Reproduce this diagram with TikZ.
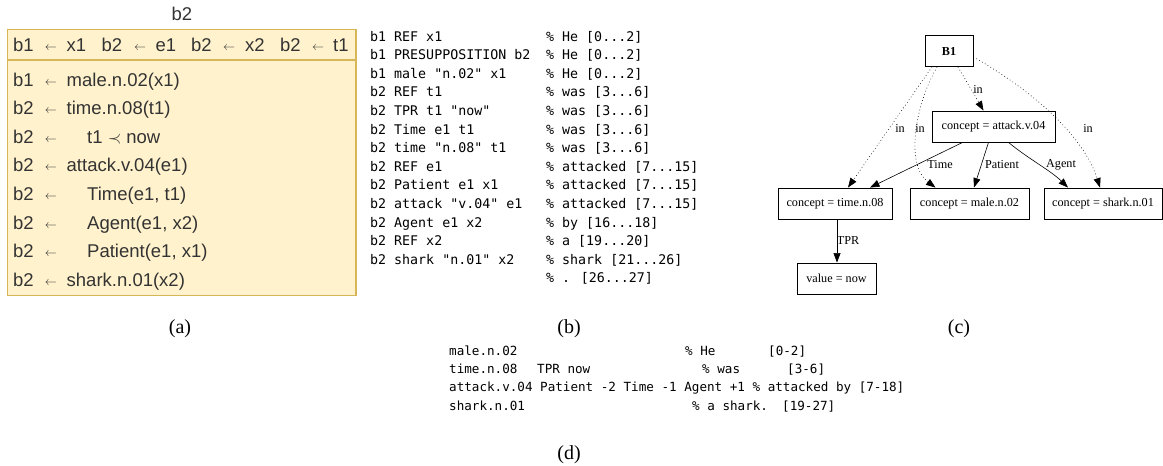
\documentclass[tikz,border=0pt]{standalone}
\usepackage{fontspec}
\setmainfont{Liberation Serif}
\newfontfamily\asans{Liberation Sans}
\newfontfamily\amono{DejaVu Sans Mono}
\usetikzlibrary{arrows.meta}
\definecolor{dfill}{HTML}{FFF2CC}
\definecolor{dline}{HTML}{D6B656}
\definecolor{tcol}{HTML}{333333}
\tikzset{
  atxt/.style={inner sep=0, anchor=base west, text=tcol, font=\asans\fontsize{18.5}{20}\selectfont},
  arr/.style={inner sep=0, anchor=base, text=tcol, font=\fontsize{13}{13}\selectfont},
  btxt/.style={inner sep=0, anchor=base west, font=\amono\fontsize{13.3}{14}\selectfont},
  dtxt/.style={inner sep=0, anchor=base west, font=\amono\fontsize{12.6}{14}\selectfont},
  captxt/.style={inner sep=0, anchor=base, font=\fontsize{20}{22}\selectfont},
  gbox/.style={draw, line width=0.9pt, inner sep=0, minimum height=31pt, font=\fontsize{12.2}{13}\selectfont},
  glab/.style={inner sep=0, font=\fontsize{12.2}{13}\selectfont},
  garr/.style={line width=0.6pt, -{Triangle[length=9.5pt,width=7pt]}},
  gdot/.style={garr, dash pattern=on 0.7pt off 2.6pt},
}
\begin{document}
\begin{tikzpicture}[x=1pt,y=-1pt]
\useasboundingbox (0,0) rectangle (1163,466);
% ---------------- (a)
\node[inner sep=0, text=tcol, font=\asans\fontsize{18.5}{20}\selectfont] (atitle) at (182,14) {b2};
\draw[dline, fill=dfill, line width=1.6pt] (7.5,29.5) rectangle (356,295.5);
\draw[dline, line width=1.6pt] (7.5,60) -- (356,60);
% header
\node[atxt] (h1) at (13,51.7) {b1};
\node[arr] (ha1) at (51,50.7) {$\leftarrow$};
\node[atxt] (h2) at (66.5,51.7) {x1};
\node[atxt] (h3) at (101.5,51.7) {b2};
\node[arr] (ha2) at (140,50.7) {$\leftarrow$};
\node[atxt] (h4) at (155.5,51.7) {e1};
\node[atxt] (h5) at (191,51.7) {b2};
\node[arr] (ha3) at (229,50.7) {$\leftarrow$};
\node[atxt] (h6) at (245,51.7) {x2};
\node[atxt] (h7) at (280,51.7) {b2};
\node[arr] (ha4) at (318,50.7) {$\leftarrow$};
\node[atxt] (h8) at (333,51.7) {t1};
% rows
\node[atxt] (r1b) at (13,86) {b1};
\node[arr] (r1a) at (51,85) {$\leftarrow$};
\node[atxt] (r1c) at (66.5,86) {male.n.02(x1)};
\node[atxt] (r2b) at (13,114.6) {b2};
\node[arr] (r2a) at (51,113.6) {$\leftarrow$};
\node[atxt] (r2c) at (66.5,114.6) {time.n.08(t1)};
\node[atxt] (r3b) at (13,143.2) {b2};
\node[arr] (r3a) at (51,142.2) {$\leftarrow$};
\node[atxt] (r3c) at (87,143.2) {t1 $\prec$ now};
\node[atxt] (r4b) at (13,171.8) {b2};
\node[arr] (r4a) at (51,170.8) {$\leftarrow$};
\node[atxt] (r4c) at (66.5,171.8) {attack.v.04(e1)};
\node[atxt] (r5b) at (13,200.4) {b2};
\node[arr] (r5a) at (51,199.4) {$\leftarrow$};
\node[atxt] (r5c) at (87,200.4) {Time(e1, t1)};
\node[atxt] (r6b) at (13,229) {b2};
\node[arr] (r6a) at (51,228) {$\leftarrow$};
\node[atxt] (r6c) at (87,229) {Agent(e1, x2)};
\node[atxt] (r7b) at (13,257.6) {b2};
\node[arr] (r7a) at (51,256.6) {$\leftarrow$};
\node[atxt] (r7c) at (87,257.6) {Patient(e1, x1)};
\node[atxt] (r8b) at (13,286.2) {b2};
\node[arr] (r8a) at (51,285.2) {$\leftarrow$};
\node[atxt] (r8c) at (66.5,286.2) {shark.n.01(x2)};
\node[captxt] (capa) at (180,333) {(a)};
% ---------------- (b)
\node[btxt] (b1l) at (370,41) {b1 REF x1};
\node[btxt] (b1r) at (546,41) {\% He [0...2]};
\node[btxt] (b2l) at (370,59.6) {b1 PRESUPPOSITION b2};
\node[btxt] (b2r) at (546,59.6) {\% He [0...2]};
\node[btxt] (b3l) at (370,78.2) {b1 male "n.02" x1};
\node[btxt] (b3r) at (546,78.2) {\% He [0...2]};
\node[btxt] (b4l) at (370,96.8) {b2 REF t1};
\node[btxt] (b4r) at (546,96.8) {\% was [3...6]};
\node[btxt] (b5l) at (370,115.4) {b2 TPR t1 "now"};
\node[btxt] (b5r) at (546,115.4) {\% was [3...6]};
\node[btxt] (b6l) at (370,134) {b2 Time e1 t1};
\node[btxt] (b6r) at (546,134) {\% was [3...6]};
\node[btxt] (b7l) at (370,152.6) {b2 time "n.08" t1};
\node[btxt] (b7r) at (546,152.6) {\% was [3...6]};
\node[btxt] (b8l) at (370,171.2) {b2 REF e1};
\node[btxt] (b8r) at (546,171.2) {\% attacked [7...15]};
\node[btxt] (b9l) at (370,189.8) {b2 Patient e1 x1};
\node[btxt] (b9r) at (546,189.8) {\% attacked [7...15]};
\node[btxt] (b10l) at (370,208.4) {b2 attack "v.04" e1};
\node[btxt] (b10r) at (546,208.4) {\% attacked [7...15]};
\node[btxt] (b11l) at (370,227) {b2 Agent e1 x2};
\node[btxt] (b11r) at (546,227) {\% by [16...18]};
\node[btxt] (b12l) at (370,245.6) {b2 REF x2};
\node[btxt] (b12r) at (546,245.6) {\% a [19...20]};
\node[btxt] (b13l) at (370,264.2) {b2 shark "n.01" x2};
\node[btxt] (b13r) at (546,264.2) {\% shark [21...26]};
\node[btxt] (b14r) at (546,282.8) {\% . [26...27]};
\node[captxt] (capb) at (569,333) {(b)};
% ---------------- (c)
\node[gbox, minimum width=48pt, font=\bfseries\fontsize{12.2}{13}\selectfont] (B1) at (949,51) {B1};
\node[gbox, minimum width=123pt] (att) at (993.5,126.5) {concept = attack.v.04};
\node[gbox, minimum width=114pt] (tim) at (835,203.5) {concept = time.n.08};
\node[gbox, minimum width=119pt] (mal) at (969.5,203.5) {concept = male.n.02};
\node[gbox, minimum width=118pt] (shk) at (1103,203.5) {concept = shark.n.01};
\node[gbox, minimum width=79pt] (val) at (836.5,278.5) {value = now};
\draw[gdot] ([xshift=9pt]B1.south) -- ([xshift=-10pt]att.north);
\draw[gdot] ([xshift=-17pt]B1.south) -- ([xshift=13pt]tim.north);
\draw[gdot] ([xshift=-12pt]B1.south) .. controls (915,105) and (905,165) .. ([xshift=-34pt]mal.north);
\draw[gdot] ([yshift=-6pt]B1.east) .. controls (1040,95) and (1085,140) .. ([xshift=-3pt]shk.north);
\draw[garr] ([xshift=-31pt]att.south) -- ([xshift=35pt]tim.north);
\draw[garr] ([xshift=-5pt]att.south) -- ([xshift=4.5pt]mal.north);
\draw[garr] ([xshift=15pt]att.south) .. controls (1030,160) and (1050,170) .. ([xshift=-35pt]shk.north);
\draw[garr] ([xshift=2pt]tim.south) -- ([xshift=0.5pt]val.north);
\node[glab] (lin1) at (978,89) {in};
\node[glab] (lin2) at (900,128) {in};
\node[glab] (lin3) at (920,128) {in};
\node[glab] (lin4) at (1088,128) {in};
\node[glab] (ltime) at (940,165) {Time};
\node[glab] (lpat) at (1002,165) {Patient};
\node[glab] (lag) at (1061,165) {Agent};
\node[glab] (ltpr) at (848,241) {TPR};
\node[captxt] (capc) at (959,333) {(c)};
% ---------------- (d)
\node[dtxt] (d1a) at (449,355) {male.n.02};
\node[dtxt] (d1b) at (685,355) {\% He};
\node[dtxt] (d1c) at (768,355) {[0-2]};
\node[dtxt] (d2a) at (449,373.3) {time.n.08};
\node[dtxt] (d2b) at (537,373.3) {TPR now};
\node[dtxt] (d2c) at (702,373.3) {\% was};
\node[dtxt] (d2d) at (787,373.3) {[3-6]};
\node[dtxt] (d3a) at (449,391.6) {attack.v.04 Patient -2 Time -1 Agent +1 \% attacked by [7-18]};
\node[dtxt] (d4a) at (449,410) {shark.n.01};
\node[dtxt] (d4b) at (692,410) {\% a shark.};
\node[dtxt] (d4c) at (782,410) {[19-27]};
\node[captxt] (capd) at (569,459) {(d)};
\end{tikzpicture}
\end{document}
